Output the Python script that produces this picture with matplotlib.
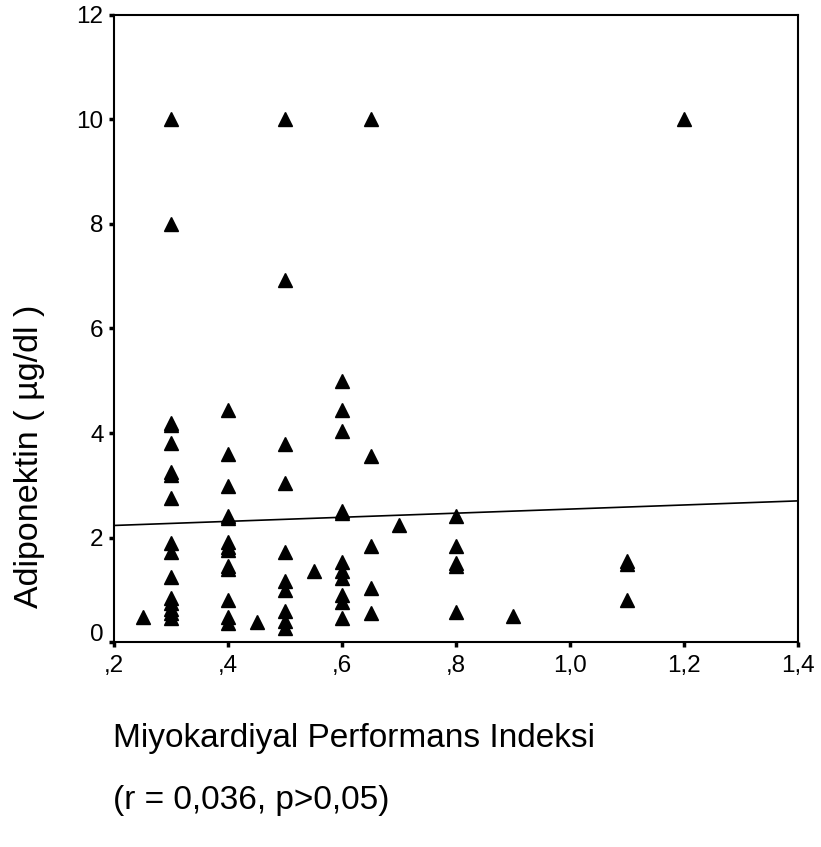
import matplotlib
matplotlib.use('Agg')
import matplotlib.pyplot as plt
import matplotlib.transforms as mtransforms
import numpy as np

plt.rcParams['font.family'] = ['Liberation Sans', 'DejaVu Sans']

# Miyokardiyal performans indeksi (x) ve adiponektin (y)
mpi = [0.25,
       0.3, 0.3, 0.3, 0.3, 0.3, 0.3, 0.3, 0.3, 0.3, 0.3, 0.3, 0.3, 0.3, 0.3, 0.3, 0.3,
       0.4, 0.4, 0.4, 0.4, 0.4, 0.4, 0.4, 0.4, 0.4, 0.4, 0.4, 0.4, 0.4,
       0.45,
       0.5, 0.5, 0.5, 0.5, 0.5, 0.5, 0.5, 0.5, 0.5, 0.5,
       0.55,
       0.6, 0.6, 0.6, 0.6, 0.6, 0.6, 0.6, 0.6, 0.6, 0.6, 0.6,
       0.65, 0.65, 0.65, 0.65, 0.65,
       0.7,
       0.8, 0.8, 0.8, 0.8, 0.8,
       0.9,
       1.1, 1.1, 1.1,
       1.2]
adiponektin = [0.48,
               10.0, 8.0, 4.2, 4.15, 3.81, 3.25, 3.2, 2.76, 1.9, 1.73, 1.25, 0.84, 0.74, 0.64, 0.55, 0.45,
               4.44, 3.59, 2.99, 2.42, 2.38, 1.92, 1.82, 1.76, 1.45, 1.4, 0.8, 0.48, 0.36,
               0.39,
               10.0, 6.93, 3.79, 3.04, 1.73, 1.17, 1.0, 0.6, 0.41, 0.26,
               1.35,
               5.0, 4.44, 4.03, 2.5, 2.46, 1.54, 1.35, 1.22, 0.9, 0.76, 0.45,
               10.0, 3.56, 1.84, 1.04, 0.55,
               2.23,
               2.42, 1.84, 1.52, 1.45, 0.58,
               0.5,
               1.55, 1.5, 0.8,
               10.0]

# regresyon dogrusu
fit_intercept = 2.152
fit_slope = 0.392

x_ticks = [0.2, 0.4, 0.6, 0.8, 1.0, 1.2, 1.4]
x_tick_labels = [',2', ',4', ',6', ',8', '1,0', '1,2', '1,4']
y_ticks = [0, 2, 4, 6, 8, 10, 12]

fig = plt.figure(figsize=(8.21, 8.47), dpi=100)
ax = fig.add_axes([114 / 821, 1 - 642 / 847, (798 - 114) / 821, (642 - 15) / 847])

ax.plot(mpi, adiponektin, linestyle='none', marker='^', markersize=10,
        color='black', zorder=3)

xs = np.array([0.2, 1.4])
ax.plot(xs, fit_intercept + fit_slope * xs, color='black', linewidth=1.2)

ax.set_xlim(0.2, 1.4)
ax.set_ylim(0, 12)
ax.set_xticks(x_ticks)
ax.set_xticklabels(x_tick_labels)
ax.set_yticks(y_ticks)

for s in ax.spines.values():
    s.set_linewidth(1.5)
ax.tick_params(axis='both', direction='out', length=3.5, width=2.5,
               labelsize=17.5, pad=6)
ax.tick_params(axis='y', pad=4)

# SPSS'teki gibi "0" etiketi biraz yukarida
fig.canvas.draw()
lab0 = ax.get_yticklabels()[0]
lab0.set_transform(lab0.get_transform() +
                   mtransforms.ScaledTranslation(0, 7 / 72, fig.dpi_scale_trans))

fig.text(30 / 821, 1 - 456 / 847, 'Adiponektin ( µg/dl )', rotation=90,
         ha='center', va='center', fontsize=24.5)
fig.text(113 / 821, 1 - 738 / 847, 'Miyokardiyal Performans Indeksi',
         ha='left', va='center', fontsize=24)
fig.text(113 / 821, 1 - 800 / 847, '(r = 0,036, p>0,05)',
         ha='left', va='center', fontsize=24)

fig.savefig('out.png', dpi=100)
